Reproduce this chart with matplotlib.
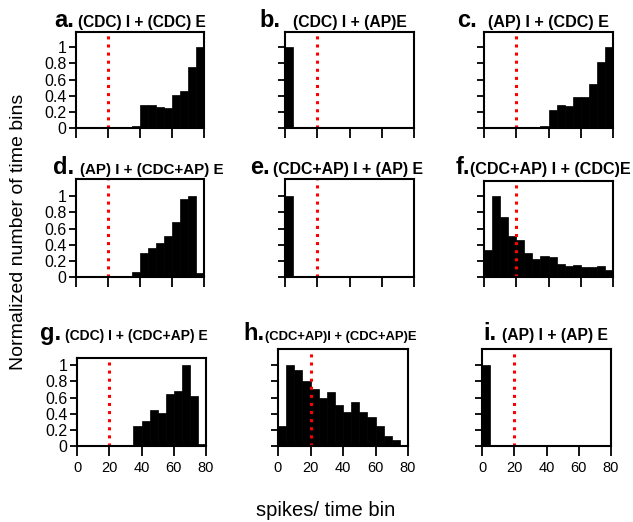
import numpy as np
import matplotlib.pyplot as plt

plt.rcParams['font.family'] = ['Liberation Sans', 'DejaVu Sans']

# bin left edges (spikes / time bin), bin width 5
edges = np.arange(0, 80, 5)

a_vals = [0, 0, 0, 0, 0, 0, 0, 0.03, 0.28, 0.28, 0.26, 0.25, 0.41, 0.46, 0.75, 1.0]
b_vals = [1.0, 0, 0, 0, 0, 0, 0, 0, 0, 0, 0, 0, 0, 0, 0, 0]
c_vals = [0, 0, 0, 0, 0, 0, 0, 0.03, 0.22, 0.29, 0.27, 0.38, 0.39, 0.55, 0.82, 1.0]
d_vals = [0, 0, 0, 0, 0, 0, 0, 0.06, 0.30, 0.36, 0.42, 0.51, 0.68, 0.97, 1.0, 0.05]
e_vals = [1.0, 0, 0, 0, 0, 0, 0, 0, 0, 0, 0, 0, 0, 0, 0, 0]
f_vals = [0.33, 1.0, 0.74, 0.51, 0.46, 0.30, 0.22, 0.26, 0.25, 0.16, 0.14, 0.15, 0.13, 0.12, 0.14, 0.09]
g_vals = [0, 0, 0, 0, 0, 0, 0, 0.25, 0.31, 0.44, 0.41, 0.65, 0.68, 1.0, 0.62, 0.03]
h_vals = [0.25, 1.0, 0.94, 0.81, 0.71, 0.60, 0.67, 0.51, 0.42, 0.54, 0.42, 0.36, 0.25, 0.12, 0.07, 0.01]
i_vals = [1.0, 0.01, 0, 0, 0, 0, 0, 0, 0, 0, 0, 0, 0, 0, 0, 0]

letters = ['a.', 'b.', 'c.', 'd.', 'e.', 'f.', 'g.', 'h.', 'i.']
titles = ['(CDC) I + (CDC) E', '(CDC) I + (AP)E', '(AP) I + (CDC) E',
          '(AP) I + (CDC+AP) E', '(CDC+AP) I + (AP) E', '(CDC+AP) I + (CDC)E',
          '(CDC) I + (CDC+AP) E', '(CDC+AP)I + (CDC+AP)E', '(AP) I + (AP) E']
threshold = 20

W, H = 633, 522
fig = plt.figure(figsize=(W / 100, H / 100), dpi=100)

# axes boxes in pixels: left, top, right, bottom
boxes = [(76, 32, 204, 128), (285, 32, 414, 128), (484, 32, 613, 128),
         (76, 179, 204, 277), (285, 179, 414, 277), (484, 181, 613, 277),
         (77, 358, 206, 446), (278, 349, 408, 446), (482, 349, 611, 446)]
# title positions: letter x, text x, baseline y, text size
title_pos = [(54, 78, 27, 11.2), (259, 293, 27, 11.3), (457, 488, 27, 11.6),
             (53, 80, 174, 10.9), (250, 273, 174, 11.4), (456, 470, 174, 11.6),
             (40, 65, 340, 10.0), (243, 265, 340, 9.4), (483, 502, 340, 11.3)]

data = [a_vals, b_vals, c_vals, d_vals, e_vals, f_vals, g_vals, h_vals, i_vals]
px_per_unit = 80.7

for k, vals in enumerate(data):
    l, t, r, b = boxes[k]
    ax = fig.add_axes([l / W, 1 - b / H, (r - l) / W, (b - t) / H])
    ax.bar(edges, vals, width=5, align='edge', color='black', edgecolor='black', linewidth=0.5)
    top = (b - t) / px_per_unit
    ax.plot([threshold, threshold], [0, top], color='red', linestyle=':', linewidth=2.2)
    ax.set_xlim(0, 80)
    ax.set_ylim(0, top)
    ax.set_xticks([0, 20, 40, 60, 80])
    ax.set_yticks([0, 0.2, 0.4, 0.6, 0.8, 1])
    ax.set_yticklabels(['0', '0.2', '0.4', '0.6', '0.8', '1'])
    ax.tick_params(axis='x', direction='out', length=7, width=1.3, labelsize=10.5, pad=4)
    ax.tick_params(axis='y', direction='out', length=5, width=1.3, labelsize=11.5, pad=2)
    for s in ax.spines.values():
        s.set_linewidth(1.5)
    if k % 3 != 0:
        ax.tick_params(axis='y', labelleft=False)
    if k < 6:
        ax.tick_params(axis='x', labelbottom=False)
    lx, tx, by, fs = title_pos[k]
    fig.text(lx / W, 1 - by / H, letters[k], fontsize=17, fontweight='bold', ha='left', va='baseline')
    fig.text(tx / W, 1 - by / H, titles[k], fontsize=fs, fontweight='bold', ha='left', va='baseline')

fig.text(19 / W, 1 - 232 / H, 'Normalized number of time bins', rotation=90,
         fontsize=14, ha='center', va='center')
fig.text(326 / W, 1 - 511 / H, 'spikes/ time bin', fontsize=14.5, ha='center', va='center')

fig.savefig('out.png', dpi=100)
